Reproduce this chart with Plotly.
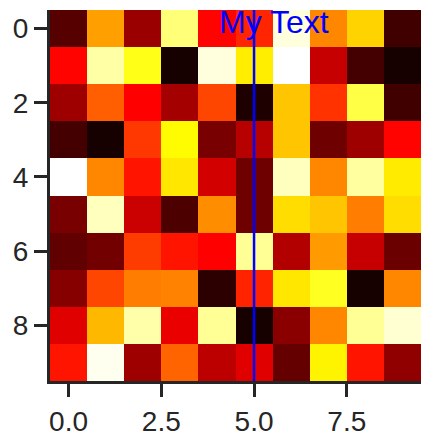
import plotly.graph_objects as go

# heatmap values (rows = y 0..9, columns = x 0..9)
row0 = [0.115, 0.604, 0.215, 0.866, 0.370, 0.420, 0.966, 0.567, 0.680, 0.080]
row1 = [0.370, 0.910, 0.770, 0.020, 0.966, 0.720, 1.000, 0.280, 0.086, 0.020]
row2 = [0.220, 0.507, 0.365, 0.230, 0.470, 0.030, 0.660, 0.440, 0.816, 0.080]
row3 = [0.086, 0.020, 0.447, 0.740, 0.165, 0.258, 0.660, 0.150, 0.220, 0.370]
row4 = [1.000, 0.567, 0.395, 0.710, 0.300, 0.150, 0.935, 0.567, 0.905, 0.716]
row5 = [0.165, 0.935, 0.287, 0.100, 0.575, 0.150, 0.695, 0.660, 0.552, 0.695]
row6 = [0.130, 0.157, 0.455, 0.395, 0.365, 0.895, 0.250, 0.597, 0.280, 0.143]
row7 = [0.186, 0.470, 0.552, 0.560, 0.050, 0.417, 0.710, 0.780, 0.020, 0.567]
row8 = [0.320, 0.640, 0.915, 0.336, 0.895, 0.020, 0.190, 0.567, 0.895, 0.955]
row9 = [0.395, 0.985, 0.220, 0.515, 0.265, 0.320, 0.136, 0.730, 0.395, 0.200]
values = [row0, row1, row2, row3, row4, row5, row6, row7, row8, row9]

x_idx = list(range(10))
y_idx = list(range(10))
x_ticks = [0.0, 2.5, 5.0, 7.5]
x_ticklabels = ["0.0", "2.5", "5.0", "7.5"]
y_ticks = [0, 2, 4, 6, 8]
line_x = 5
text_x = 4
text_y = 0
text_label = "My Text"

hot = [[0.0, "rgb(10,0,0)"], [0.365079, "rgb(255,0,0)"],
       [0.746032, "rgb(255,255,0)"], [1.0, "rgb(255,255,255)"]]

fig = go.Figure()
fig.add_trace(go.Heatmap(z=values, x=x_idx, y=y_idx, colorscale=hot,
                         zmin=0, zmax=1, showscale=False, zsmooth=False,
                         hoverinfo="skip"))

fig.add_shape(type="line", x0=line_x, x1=line_x, y0=0, y1=1, xref="x", yref="paper",
              line=dict(color="rgb(0,0,255)", width=2.5))

fig.add_annotation(x=text_x, y=text_y, xref="x", yref="y", text=text_label,
                   showarrow=False, xanchor="left", yanchor="middle", yshift=7,
                   font=dict(family="Liberation Sans, Arial", size=32, color="rgb(0,0,255)"))

axis_common = dict(showgrid=False, zeroline=False, showline=True, linewidth=3,
                   linecolor="#262626", ticks="outside", ticklen=13, tickwidth=3,
                   tickcolor="#262626", mirror=False, automargin=False,
                   tickfont=dict(family="Liberation Sans, Arial", size=28, color="#262626"))

fig.update_xaxes(range=[-0.5, 9.5], tickvals=x_ticks, ticktext=x_ticklabels, **axis_common)
fig.update_yaxes(range=[9.5, -0.5], tickvals=y_ticks, **axis_common)

fig.update_layout(width=423, height=434, margin=dict(l=42, r=10, t=2, b=61),
                  plot_bgcolor="white", paper_bgcolor="white", showlegend=False)

fig.write_html("out.html")
